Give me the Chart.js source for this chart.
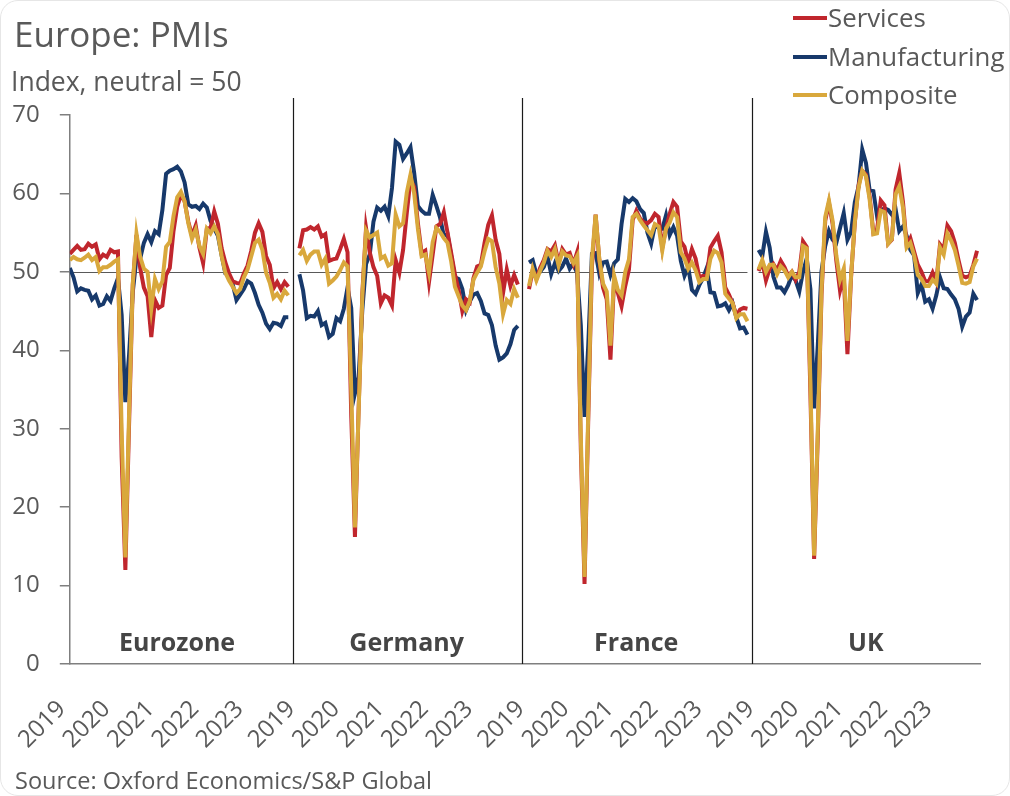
<!doctype html>
<html lang="en">
<head>
<meta charset="utf-8">
<title>Europe: PMIs</title>
<script src="https://cdn.jsdelivr.net/npm/chart.js@4.4.1/dist/chart.umd.min.js"></script>
<style>
 html,body{margin:0;padding:0;background:#fff}
 body{width:1010px;height:796px;position:relative;overflow:hidden;font-family:"Open Sans",sans-serif;color:#595959}
 #frame{position:absolute;left:0;top:0;width:1008px;height:794px;border:1px solid #e6e6e6;border-radius:18px}
 canvas{position:absolute;left:0;top:0}
 .title{position:absolute;left:14px;top:10px;font-size:35px;white-space:nowrap}
 .sub{position:absolute;left:11px;top:63px;font-size:26.5px;white-space:nowrap}
 .source{position:absolute;left:15px;top:764px;font-size:23.5px;white-space:nowrap}
 .lg{position:absolute;left:793px;height:34px;line-height:34px;font-size:25.8px;white-space:nowrap}
 .lg i{position:absolute;left:0;top:16px;width:34px;height:4px}
 .lg span{position:absolute;left:35px;top:0}
</style>
</head>
<body>
<div id="frame"></div>
<canvas id="c" width="1010" height="796"></canvas>
<div class="title">Europe: PMIs</div>
<div class="sub">Index, neutral = 50</div>
<div id="legend"></div>
<div class="source">Source: Oxford Economics/S&amp;P Global</div>

<script>
/* ===== Daten: Jan 2019 – Dez 2023, monatlich ======================== */
const countries   = ['Eurozone','Germany','France','UK'];
const yearLabels  = ['2019','2020','2021','2022','2023'];
const seriesNames = ['Services','Manufacturing','Composite'];
const seriesColors= ['#C0262D','#17396B','#D9A83C'];

const ezServices = [52.3,52.8,53.3,52.8,52.9,53.6,53.2,53.5,51.6,52.2,51.9,52.8, 52.5,52.6,26.4,12.0,30.5,48.3,54.7,50.5,48.0,46.9,41.7,46.4, 45.4,45.7,49.6,50.5,55.2,58.3,59.8,59.0,56.4,54.6,55.9,53.1, 51.1,55.5,55.6,57.7,56.1,53.0,51.2,49.8,48.8,48.6,48.5,49.8, 50.8,52.7,55.0,56.2,55.1,52.0,50.9,47.9,48.7,47.8,48.7,48.1];
const ezManufacturing = [50.5,49.3,47.5,47.9,47.7,47.6,46.5,47.0,45.7,45.9,46.9,46.3, 47.9,49.2,44.5,33.4,39.4,47.4,51.8,51.7,53.7,54.8,53.8,55.2, 54.8,57.9,62.5,62.9,63.1,63.4,62.8,61.4,58.6,58.3,58.4,58.0, 58.7,58.2,56.5,55.5,54.6,52.1,49.8,49.6,48.4,46.4,47.1,47.8, 48.8,48.5,47.3,45.8,44.8,43.4,42.7,43.5,43.4,43.1,44.2,44.2];
const ezComposite = [51.5,51.9,51.6,51.5,51.8,52.2,51.5,51.9,50.1,50.6,50.6,50.9, 51.3,51.6,29.7,13.6,31.9,48.5,54.9,51.9,50.4,50.0,45.3,49.1, 47.8,48.8,53.2,53.8,57.1,59.5,60.2,59.0,56.2,54.2,55.4,53.3, 52.3,55.5,54.9,55.8,54.8,52.0,49.9,48.9,48.1,47.3,47.8,49.3, 50.3,52.0,53.7,54.1,52.8,49.9,48.6,46.7,47.2,46.5,47.6,47.0];

const deServices = [53.0,55.3,55.4,55.7,55.4,55.8,54.5,54.8,51.4,51.6,51.7,52.9, 54.2,52.5,31.7,16.2,32.6,47.3,55.6,52.5,50.6,49.5,46.0,47.0, 46.7,45.7,51.5,49.9,52.8,57.5,61.8,60.8,56.2,52.4,52.7,48.7, 52.2,55.8,56.1,57.6,55.0,52.4,49.7,47.7,45.0,46.5,46.1,49.2, 50.7,50.9,53.7,56.0,57.2,54.1,52.3,47.3,50.3,48.2,49.6,48.4];
const deManufacturing = [49.7,47.6,44.1,44.4,44.3,45.0,43.2,43.5,41.7,42.1,44.1,43.7, 45.3,48.0,45.4,34.5,36.6,45.2,51.0,52.2,56.4,58.2,57.8,58.3, 57.1,60.7,66.6,66.2,64.4,65.1,65.9,62.6,58.4,57.8,57.4,57.4, 59.8,58.4,56.9,54.6,54.8,52.0,49.3,49.1,47.8,45.1,46.2,47.1, 47.3,46.3,44.7,44.5,43.2,40.6,38.8,39.1,39.6,40.8,42.6,43.1];
const deComposite = [52.1,52.8,51.4,52.2,52.6,52.6,50.9,51.7,48.5,48.9,49.4,50.2, 51.2,50.7,35.0,17.4,32.3,47.0,55.3,54.4,54.7,55.0,51.7,52.0, 50.8,51.1,57.3,55.8,56.2,60.1,62.4,60.0,55.5,52.0,52.2,49.9, 53.8,55.6,55.1,54.3,53.7,51.3,48.1,46.9,45.7,45.1,46.3,49.0, 49.9,50.7,52.6,54.2,53.9,50.6,48.5,44.6,46.4,45.9,47.8,46.7];

const frServices = [47.8,50.2,49.1,50.5,51.5,52.9,52.6,53.4,51.1,52.9,52.2,52.4, 51.0,52.5,27.4,10.2,31.1,50.7,57.3,51.5,48.0,46.5,38.8,49.1, 47.3,45.6,48.2,50.3,56.6,57.8,56.8,56.3,56.2,56.6,57.4,57.0, 53.1,55.5,57.4,58.9,58.3,53.9,53.2,51.2,52.9,51.7,49.3,49.5, 49.4,53.1,53.9,54.6,52.5,48.0,47.1,46.0,44.4,45.2,45.4,45.3];
const frManufacturing = [51.2,51.5,49.7,50.0,50.6,52.0,49.7,51.1,50.1,50.7,51.7,50.4, 51.1,49.8,43.2,31.5,40.6,52.3,52.4,49.8,51.2,51.3,49.6,51.1, 51.6,56.1,59.3,58.9,59.4,59.0,58.0,57.5,55.0,53.6,55.9,55.6, 55.5,57.2,54.7,55.7,54.6,51.4,49.5,50.6,47.7,47.2,48.3,49.2, 50.5,47.4,47.3,45.6,45.7,46.0,45.1,46.0,44.2,42.8,42.9,42.0];
const frComposite = [48.2,50.4,48.9,50.1,51.2,52.7,51.9,52.9,50.8,52.6,52.1,52.0, 51.1,52.0,28.9,11.1,32.1,51.7,57.3,51.6,48.5,47.5,40.6,49.5, 47.7,47.0,50.0,51.6,57.0,57.4,56.6,55.9,55.3,54.7,56.1,55.8, 52.7,55.5,56.3,57.6,57.0,52.5,51.7,50.4,51.2,50.2,48.7,49.1, 49.1,51.7,52.7,52.4,51.2,47.2,46.6,46.0,44.1,44.6,44.6,43.7];

const ukServices = [50.1,51.3,48.9,50.4,51.0,50.2,51.4,50.6,49.5,50.0,49.0,50.0, 53.9,53.2,34.5,13.4,29.0,47.1,56.5,58.8,56.1,51.4,47.6,49.4, 39.5,49.5,56.3,61.0,62.9,62.4,59.6,55.0,55.4,59.1,58.5,53.6, 54.1,60.5,62.6,58.9,53.4,54.3,52.6,50.9,50.0,48.8,48.8,49.9, 48.7,53.5,52.9,55.9,55.2,53.7,51.5,49.5,49.3,49.5,50.9,52.7];
const ukManufacturing = [52.8,52.0,55.1,53.1,49.4,48.0,48.0,47.4,48.3,49.6,48.9,47.5, 50.0,51.7,47.8,32.6,40.7,50.1,53.3,55.2,54.1,53.7,55.6,57.5, 54.1,55.1,58.9,60.9,65.6,63.9,60.4,60.3,57.1,57.8,58.1,57.9, 57.3,58.0,55.2,55.8,54.6,52.8,52.1,47.3,48.4,46.2,46.5,45.3, 47.0,49.3,47.9,47.8,47.1,46.5,45.3,43.0,44.3,44.8,47.2,46.4];
const ukComposite = [50.3,51.5,50.0,50.9,50.9,49.7,50.7,50.2,49.3,50.0,49.3,49.3, 53.3,53.0,36.0,13.8,30.0,47.7,57.0,59.1,56.5,52.1,49.0,50.4, 41.2,49.6,56.4,60.7,62.9,62.2,59.2,54.8,54.9,57.8,57.6,53.6, 54.2,59.9,60.9,58.2,53.1,53.7,52.1,49.6,49.1,48.2,48.2,49.0, 48.5,53.1,52.2,54.9,54.0,52.8,50.8,48.6,48.5,48.7,50.7,51.7];

/* ===== Aufbau ======================================================= */
const MONTHS = 60;   // Monate je Panel
const PANEL  = 62;   // Monate + Lücke zwischen den Panels
const panels = {
  Services:      [ezServices, deServices, frServices, ukServices],
  Manufacturing: [ezManufacturing, deManufacturing, frManufacturing, ukManufacturing],
  Composite:     [ezComposite, deComposite, frComposite, ukComposite]
};
const drawOrder = {Services:1, Manufacturing:2, Composite:0};

function panelPoints(arrs){
  const pts = [];
  arrs.forEach((arr,p)=>{
    arr.forEach((v,i)=>pts.push({x:p*PANEL+i, y:v}));
    pts.push({x:p*PANEL+MONTHS, y:null});      // Linie zwischen Panels unterbrechen
  });
  return pts;
}

const yearTicks = [];
countries.forEach((c,p)=>yearLabels.forEach((y,k)=>yearTicks.push(p*PANEL+12*k)));

// Legende
document.getElementById('legend').innerHTML = seriesNames.map((n,i)=>
  `<div class="lg" style="top:${[0,39,77][i]}px"><i style="background:${seriesColors[i]}"></i><span>${n}</span></div>`
).join('');

/* Panel-Deko: 50er-Linie, Trennlinien, Ländernamen ------------------- */
const panelDecor = {
  id:'panelDecor',
  beforeDatasetsDraw(chart){
    const {ctx, chartArea, scales:{x,y}} = chart;
    ctx.save();
    const y50 = Math.round(y.getPixelForValue(50))+0.5;
    ctx.strokeStyle = '#595959'; ctx.lineWidth = 1;
    countries.forEach((c,p)=>{
      ctx.beginPath();
      ctx.moveTo(x.getPixelForValue(p*PANEL), y50);
      ctx.lineTo(x.getPixelForValue(p*PANEL+MONTHS-1), y50);
      ctx.stroke();
    });
    ctx.strokeStyle = '#1a1a1a'; ctx.lineWidth = 1.2;
    for(let p=1;p<countries.length;p++){
      const xp = Math.round(x.getPixelForValue(p*PANEL-1.8))+0.5;
      ctx.beginPath();
      ctx.moveTo(xp, chartArea.top-17);
      ctx.lineTo(xp, chartArea.bottom);
      ctx.stroke();
    }
    ctx.restore();
  },
  afterDatasetsDraw(chart){
    const {ctx, chartArea, scales:{x}} = chart;
    ctx.save();
    ctx.font = 'bold 25px "Open Sans", sans-serif';
    ctx.fillStyle = '#454545';
    ctx.textAlign = 'center';
    ctx.textBaseline = 'alphabetic';
    countries.forEach((c,p)=>{
      ctx.fillText(c, x.getPixelForValue(p*PANEL+(MONTHS-1)/2)-2, chartArea.bottom-13);
    });
    ctx.restore();
  }
};

Chart.defaults.font.family = '"Open Sans", sans-serif';

new Chart(document.getElementById('c'), {
  type:'line',
  data:{
    datasets: seriesNames.map((n,i)=>({
      label:n,
      data:panelPoints(panels[n]),
      borderColor:seriesColors[i],
      borderWidth:4,
      pointRadius:0,
      tension:0,
      fill:false,
      order:drawOrder[n]
    }))
  },
  options:{
    responsive:false,
    animation:false,
    layout:{padding:{left:0, top:115, right:30, bottom:0}},
    plugins:{legend:{display:false}, tooltip:{enabled:false}},
    scales:{
      x:{
        type:'linear', min:0, max:245.8,
        afterBuildTicks: ax=>{ ax.ticks = yearTicks.map(v=>({value:v})); },
        afterFit: ax=>{ ax.height = 132; },
        ticks:{autoSkip:false, minRotation:45, maxRotation:45, padding:31, labelOffset:-8,
               color:'#595959', font:{size:24}, callback:(v,i)=>yearLabels[i%yearLabels.length]},
        grid:{display:false, drawTicks:false},
        border:{display:true, color:'#7f7f7f', width:1.5}
      },
      y:{
        min:0, max:70,
        afterFit: ax=>{ ax.width = 68; },
        ticks:{stepSize:10, padding:20, color:'#595959', font:{size:24}},
        grid:{drawOnChartArea:false, drawTicks:true, tickLength:10, color:'#7f7f7f', lineWidth:1.5},
        border:{color:'#7f7f7f', width:1.5}
      }
    }
  },
  plugins:[panelDecor]
});
</script>
</body>
</html>
